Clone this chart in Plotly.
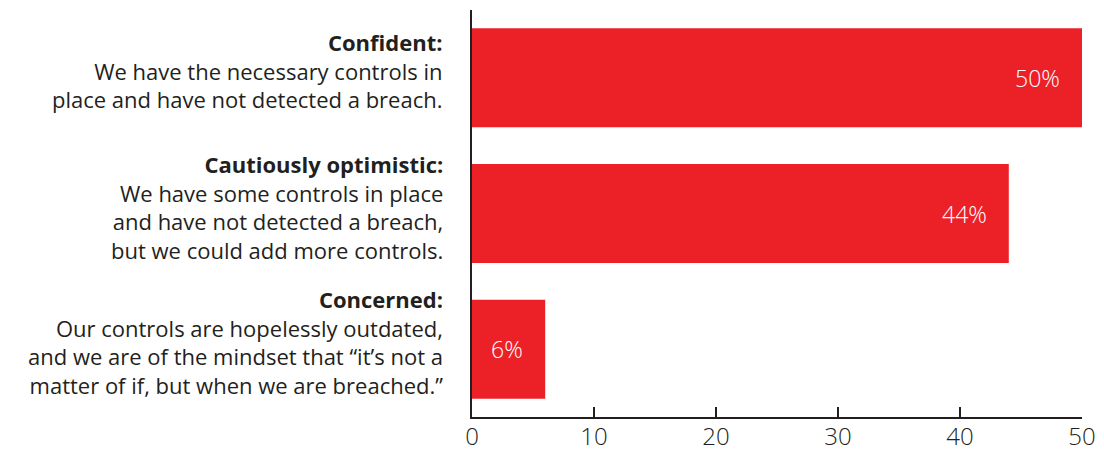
import plotly.graph_objects as go

# Survey responses: confidence in breach controls
headings = ["Confident:", "Cautiously optimistic:", "Concerned:"]
descriptions = [
    "We have the necessary controls in<br>place and have not detected a breach.",
    "We have some controls in place<br>and have not detected a breach,<br>but we could add more controls.",
    "Our controls are hopelessly outdated,<br>and we are of the mindset that \u201cit\u2019s not a<br>matter of if, but when we are breached.\u201d",
]
shares = [50, 44, 6]
x_ticks = [0, 10, 20, 30, 40, 50]

RED = "#EC2027"
INK = "#231F20"
FONT = "Open Sans"

fig = go.Figure(
    go.Bar(
        x=shares,
        y=headings,
        orientation="h",
        marker=dict(color=RED, line=dict(width=0)),
        width=0.73,
        hoverinfo="skip",
    )
)

# Category descriptions to the left of the axis
for head, desc in zip(headings, descriptions):
    fig.add_annotation(
        x=0, xref="paper", xanchor="right", xshift=-27,
        y=head, yref="y", yanchor="middle", yshift=7,
        text=f"<b>{head}</b><br>{desc}",
        align="right", showarrow=False,
        font=dict(family=FONT, size=22, color=INK),
    )

# Percentage labels inside bar ends
for head, val in zip(headings, shares):
    fig.add_annotation(
        x=val, y=head, xanchor="right", xshift=-20,
        text=f"{val}%", showarrow=False,
        font=dict(family=FONT, size=23, color="white", weight=300),
    )

fig.update_layout(
    width=1104, height=450,
    margin=dict(l=472, r=22, t=10, b=33),
    plot_bgcolor="white", paper_bgcolor="white",
    showlegend=False,
    xaxis=dict(
        range=[0, 50], tickvals=x_ticks, ticks="inside", ticklen=10,
        tickwidth=2, tickcolor=INK, showline=True, linewidth=2, linecolor=INK,
        showgrid=False, zeroline=False, automargin=False,
        ticklabelstandoff=-3,
        tickfont=dict(family=FONT, size=24, color=INK, weight=300),
    ),
    yaxis=dict(
        categoryorder="array", categoryarray=headings[::-1],
        range=[-0.5, 2.5], showticklabels=False, ticks="",
        showline=True, linewidth=2, linecolor=INK, showgrid=False,
        automargin=False,
    ),
)

fig.write_html("out.html")
